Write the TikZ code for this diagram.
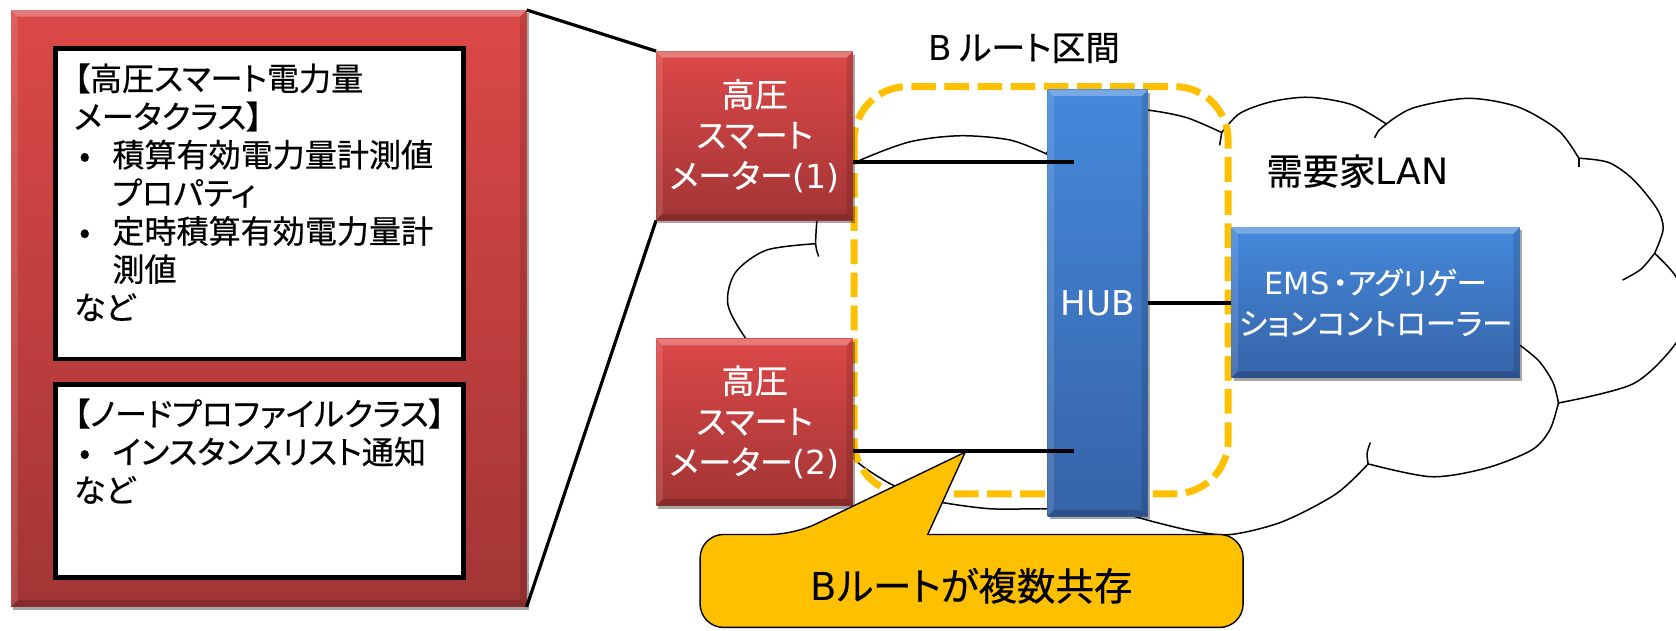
\documentclass[tikz,border=0pt]{standalone}
\usepackage{fontspec}
\setmainfont{Noto Sans CJK JP}[RawFeature={+palt},FakeBold=0.5]
\newfontfamily\lat{DejaVu Sans}
\usetikzlibrary{shadows}
\definecolor{redtop}{HTML}{DC4848}
\definecolor{redbot}{HTML}{A33535}
\definecolor{bluetop}{HTML}{4589DB}
\definecolor{bluebot}{HTML}{3663A8}
\definecolor{amber}{HTML}{FFC000}
\begin{document}
\begin{tikzpicture}[x=1pt,y=-1pt,
  boxshadow/.style={drop shadow={shadow xshift=2pt,shadow yshift=-3pt,opacity=0.35,fill=black}},
  bevel/.style={path picture={
    \fill[white,opacity=0.28] (path picture bounding box.north west) -- (path picture bounding box.north east)
      -- ([xshift=-6pt,yshift=-6pt]path picture bounding box.north east) -- ([xshift=6pt,yshift=-6pt]path picture bounding box.north west) -- cycle;
    \fill[white,opacity=0.12] (path picture bounding box.north west) -- ([xshift=6pt,yshift=-6pt]path picture bounding box.north west)
      -- ([xshift=6pt,yshift=6pt]path picture bounding box.south west) -- (path picture bounding box.south west) -- cycle;
    \fill[black,opacity=0.18] (path picture bounding box.south west) -- (path picture bounding box.south east)
      -- ([xshift=-6pt,yshift=6pt]path picture bounding box.south east) -- ([xshift=6pt,yshift=6pt]path picture bounding box.south west) -- cycle;
    \fill[black,opacity=0.12] (path picture bounding box.north east) -- ([xshift=-6pt,yshift=-6pt]path picture bounding box.north east)
      -- ([xshift=-6pt,yshift=6pt]path picture bounding box.south east) -- (path picture bounding box.south east) -- cycle;
  }},
  redbox/.style={top color=redtop,bottom color=redbot,draw=none,boxshadow,bevel,text=white,align=center,inner sep=0pt},
  bluebox/.style={top color=bluetop,bottom color=bluebot,draw=none,boxshadow,bevel,text=white,align=center,inner sep=0pt},
  whitebox/.style={fill=white,draw=black,line width=4.5pt,inner sep=0pt},
  listtext/.style={anchor=base west,inner sep=0pt,font=\fontsize{30}{35.7}\selectfont},
  wire/.style={line width=3.5pt,black},
  zoomline/.style={line width=3pt,black},
  cloudline/.style={draw=black,line width=1.4pt},
  label/.style={inner sep=0pt,align=center}
]
\useasboundingbox (0,0) rectangle (1568,590);
\fill[white] (0,0) rectangle (1568,590);
\clip (0,0) rectangle (1568,590);

% cloud (customer LAN)
\filldraw[cloudline,fill=white]
  plot[smooth] coordinates {(763,228) (766,195) (780,166) (800,152) (850,133) (898,127) (945,131) (979,144)}
  -- plot[smooth] coordinates {(979,144) (986,130) (1002,112) (1030,100) (1074,103) (1110,110) (1143,124)}
  -- plot[smooth] coordinates {(1143,124) (1160,106) (1190,95) (1225,91) (1265,98) (1297,116)}
  -- plot[smooth] coordinates {(1297,116) (1322,101) (1373,92) (1420,100) (1458,122) (1477,148)}
  -- plot[smooth] coordinates {(1477,148) (1505,152) (1528,168) (1550,195) (1556,214) (1548,237)}
  -- plot[smooth] coordinates {(1548,237) (1568,259) (1578,290) (1568,321) (1528,359) (1458,377)}
  -- plot[smooth] coordinates {(1458,377) (1450,402) (1433,421) (1390,438) (1339,446) (1280,434)}
  -- plot[smooth] coordinates {(1280,434) (1250,462) (1200,488) (1152,500) (1117,497) (1075,487) (1045,478)}
  -- plot[smooth] coordinates {(1045,478) (980,476) (927,476) (881,470) (856,463) (830,451) (803,433) (790,415)}
  -- plot[smooth] coordinates {(790,415) (740,370) (700,320) (681,285) (688,255) (717,234) (763,228)}
  -- cycle;
\draw[cloudline] plot[smooth] coordinates {(763,228) (764,234) (766,240)};
\draw[cloudline] plot[smooth] coordinates {(1143,124) (1142,130) (1141,136)};
\draw[cloudline] plot[smooth] coordinates {(1297,116) (1290,122) (1286,129)};
\draw[cloudline] plot[smooth] coordinates {(1477,148) (1477,152) (1477,156)};
\draw[cloudline] plot[smooth] coordinates {(1548,237) (1535,252) (1518,262)};
\draw[cloudline] plot[smooth] coordinates {(1458,377) (1453,358) (1440,338) (1422,323)};
\draw[cloudline] plot[smooth] coordinates {(1280,434) (1279,424) (1282,414)};

% B-route section (dashed)
\draw[amber,line width=6.5pt,dash pattern=on 23pt off 8pt,rounded corners=50pt] (799,81) rectangle (1149,462);

% devices
\node[bluebox,minimum width=94pt,minimum height=399pt,font=\lat\fontsize{32}{38}\selectfont] (hub) at (1027,283.5) {HUB};
\node[bluebox,minimum width=270pt,minimum height=141pt,font=\fontsize{28.5}{38}\selectfont] (ems) at (1287,283) {{\lat EMS}\kern3pt・アグリゲー\\ションコントローラー};
\node[redbox,minimum width=184pt,minimum height=158pt,font=\fontsize{31}{38}\selectfont] (m1) at (706,127) {高圧\\スマート\\メーター{\lat(1)}};
\node[redbox,minimum width=184pt,minimum height=156pt,font=\fontsize{31}{38}\selectfont] (m2) at (706,395) {高圧\\スマート\\メーター{\lat(2)}};

% detail panel
\node[redbox,minimum width=482pt,minimum height=558pt] (detail) at (251.5,288.5) {};
\node[whitebox,minimum width=381.5pt,minimum height=290.5pt] (cls1) at (243,190.6) {};
\node[whitebox,minimum width=381.5pt,minimum height=181pt] (cls2) at (243,449.9) {};
\node[listtext] (cls1text) at (69,84.7) {\vtop{%
  \hbox{【高圧スマート電力量}
  \hbox{メータクラス】}
  \hbox{\makebox[36pt][l]{\hspace*{5pt}•}積算有効電力量計測値}
  \hbox{\hspace*{36pt}プロパティ}
  \hbox{\makebox[36pt][l]{\hspace*{5pt}•}定時積算有効電力量計}
  \hbox{\hspace*{36pt}測値}
  \hbox{など}}};
\node[listtext] (cls2text) at (69,398.4) {\vtop{%
  \hbox{【ノードプロファイルクラス】}
  \hbox{\makebox[36pt][l]{\hspace*{5pt}•}インスタンスリスト通知}
  \hbox{など}}};

% zoom lines
\draw[zoomline] (detail.north east) -- (m1.north west);
\draw[zoomline] (detail.south east) -- (m1.south west);

% labels
\node[label,font=\fontsize{32}{38}\selectfont] (broute) at (958,45) {{\lat B} ルート区間};
\node[label,font=\fontsize{34}{40}\selectfont] (lan) at (1270,160) {需要家{\lat LAN}};

% callout
\coordinate (tip) at (903,423);
\filldraw[fill=amber,draw=black,line width=1.3pt,rounded corners=22pt]
  (655,545) -- (655,500) -- (743,500) [sharp corners] -- (tip) -- (868,500) [rounded corners=22pt] -- (1163,500) -- (1163,587) -- (655,587) -- cycle;
\node[label,font=\fontsize{36}{42}\selectfont] (note) at (909,548) {{\lat B}ルートが複数共存};

% wires
\coordinate (h1) at (1005,151.5);
\coordinate (h2) at (1005,422);
\draw[wire] (h1 -| m1.east) -- (h1);
\draw[wire] (h2 -| m2.east) -- (h2);
\draw[wire] (hub.east) -- (hub.east -| ems.west);
\end{tikzpicture}
\end{document}
